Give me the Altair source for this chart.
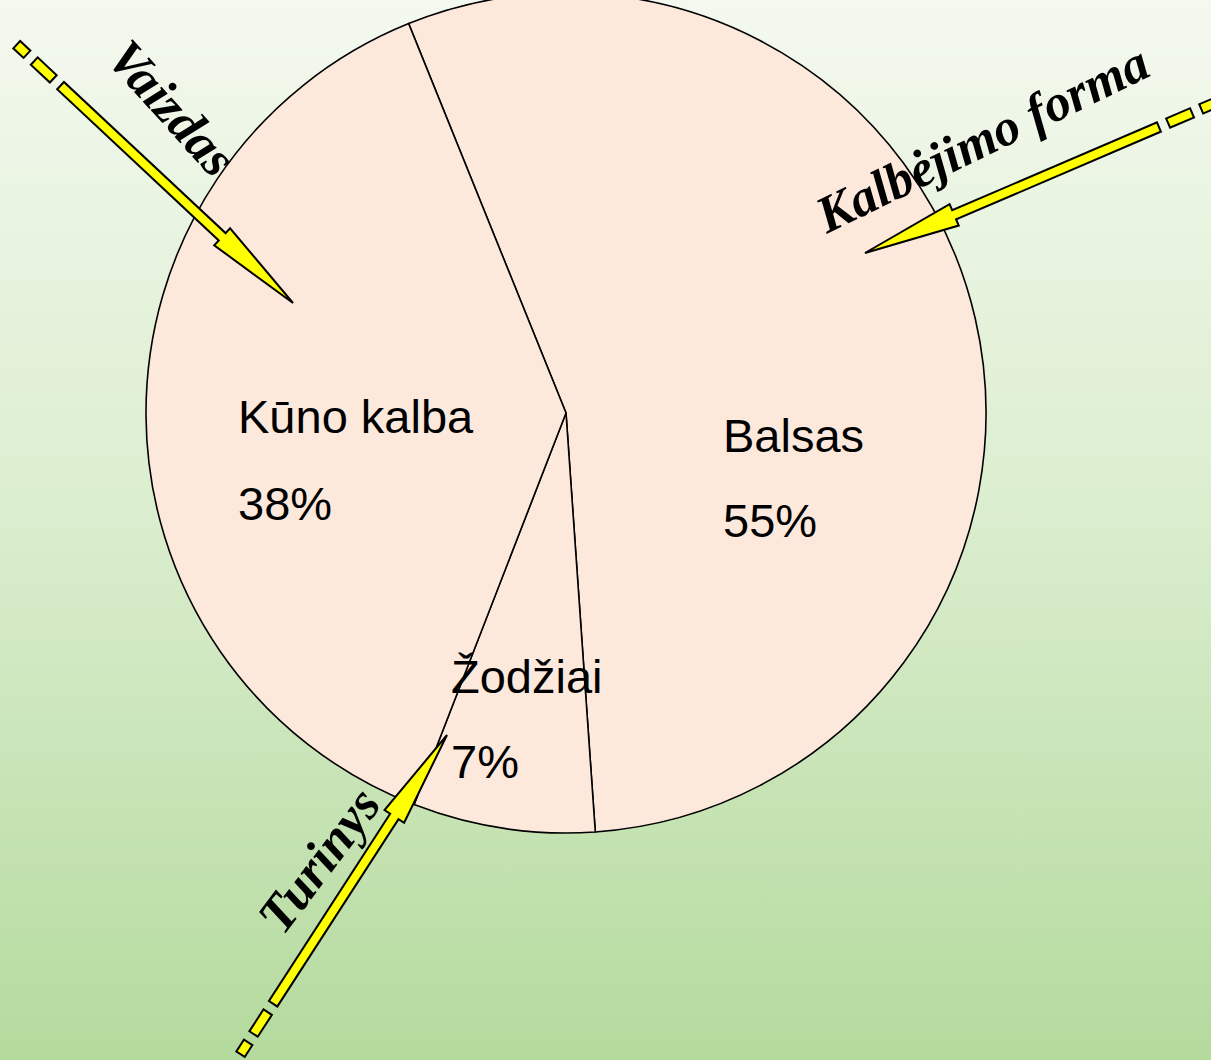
import altair as alt
import pandas as pd
import numpy as np

W, H = 1211, 1060

# ---- pie data ----
categories = ["Balsas", "Žodžiai", "Kūno kalba"]
shares = [55, 7, 38]
pct_labels = ["55%", "7%", "38%"]
order_idx = [1, 2, 3]

# label anchors (left edge, baseline), pixels
name_x = [723, 451, 238]
name_y = [452, 693, 433]
pct_y = [537, 778, 520]

# ---- arrow annotations ----
arrow_names = ["Vaizdas", "Kalbėjimo forma", "Turinys"]
tail_x = [16, 1215, 240]
tail_y = [44, 103, 1055]
tip_x = [293, 865, 447]
tip_y = [303, 253, 735]
text_x = [171, 983, 320]
text_y = [109, 140, 861]
text_angle = [48, 334, 307]

PIE_CX, PIE_CY, PIE_R = 566, 413, 420
START = np.deg2rad(-22)
HEAD_LEN = 97
PIECES = [(0, 16), (24, 52), (60, None)]

PEACH = "#FDE9DC"
YELLOW = "#FFFF00"

# build arrow geometry from annotation anchors
black_rows, yellow_rows, head_rows = [], [], []
for i in range(len(arrow_names)):
    p0 = np.array([tail_x[i], tail_y[i]], float)
    p1 = np.array([tip_x[i], tip_y[i]], float)
    L = float(np.linalg.norm(p1 - p0))
    u = (p1 - p0) / L
    for k, (a, b) in enumerate(PIECES):
        shaft = b is None
        if shaft:
            b = L - HEAD_LEN
        seg = f"{i}-{k}"
        for o, s in enumerate((a, b)):
            q = p0 + u * s
            black_rows.append(dict(seg=seg, o=o, x=q[0], y=q[1]))
        ya, yb = a + 2, (b + 6 if shaft else b - 2)
        for o, s in enumerate((ya, yb)):
            q = p0 + u * s
            yellow_rows.append(dict(seg=seg, o=o, x=q[0], y=q[1]))
    c = p1 - u * HEAD_LEN / 2
    ang = float(np.degrees(np.arctan2(u[0], -u[1])) % 360)
    head_rows.append(dict(x=c[0], y=c[1], ang=ang))

black_df = pd.DataFrame(black_rows)
yellow_df = pd.DataFrame(yellow_rows)
head_df = pd.DataFrame(head_rows)

pie_df = pd.DataFrame({"cat": categories, "share": shares, "idx": order_idx})
lab_df = pd.DataFrame({"cat": categories, "pct": pct_labels,
                       "x": name_x, "y": name_y, "py": pct_y})
txt_df = pd.DataFrame({"t": arrow_names, "x": text_x, "y": text_y, "ang": text_angle})

xs = alt.Scale(domain=[0, W], nice=False, zero=False)
ys = alt.Scale(domain=[0, H], nice=False, zero=False, reverse=True)

def X(f="x"):
    return alt.X(f"{f}:Q", scale=xs, axis=None)

def Y(f="y"):
    return alt.Y(f"{f}:Q", scale=ys, axis=None)

grad = alt.LinearGradient(
    gradient="linear",
    stops=[alt.GradientStop(color="#F4F9EF", offset=0),
           alt.GradientStop(color="#DCEED0", offset=0.47),
           alt.GradientStop(color="#B4DA9D", offset=1)],
    x1=0, x2=0, y1=0, y2=1)

bg = alt.Chart(pd.DataFrame({"k": [0]})).mark_rect(fill=grad).encode(
    x=alt.value(0), x2=alt.value(W), y=alt.value(0), y2=alt.value(H))

pie = alt.Chart(pie_df).mark_arc(
    radius=PIE_R, fill=PEACH, stroke="black", strokeWidth=1.6
).encode(
    theta=alt.Theta("share:Q", stack=True,
                    scale=alt.Scale(range=[START, START + 2 * np.pi])),
    order=alt.Order("idx:Q"),
    x=alt.value(PIE_CX), y=alt.value(PIE_CY),
)

lab_font = dict(font="Liberation Sans", fontSize=47, align="left",
                baseline="alphabetic", color="black")
names = alt.Chart(lab_df).mark_text(**lab_font).encode(x=X(), y=Y(), text="cat:N")
pcts = alt.Chart(lab_df).mark_text(**lab_font).encode(x=X(), y=Y("py"), text="pct:N")

black_lines = alt.Chart(black_df).mark_line(
    color="black", strokeWidth=12, strokeCap="butt"
).encode(x=X(), y=Y(), detail="seg:N", order="o:Q")

heads = alt.Chart(head_df).mark_point(
    shape="M0,-1L0.24,1L-0.24,1Z", filled=True, fill=YELLOW, stroke="black",
    strokeWidth=2, opacity=1, fillOpacity=1, size=HEAD_LEN ** 2
).encode(x=X(), y=Y(), angle=alt.Angle("ang:Q", scale=None))

yellow_lines = alt.Chart(yellow_df).mark_line(
    color=YELLOW, strokeWidth=8, strokeCap="butt"
).encode(x=X(), y=Y(), detail="seg:N", order="o:Q")

arrow_text = alt.Chart(txt_df).mark_text(
    font="Liberation Serif", fontSize=52, fontStyle="italic", fontWeight="bold",
    align="center", baseline="middle", color="black"
).encode(x=X(), y=Y(), text="t:N", angle=alt.Angle("ang:Q", scale=None))

chart = alt.layer(
    bg, pie, names, pcts, black_lines, heads, yellow_lines, arrow_text
).properties(
    width=W, height=H, padding=0, autosize=alt.AutoSizeParams(type="none")
).configure_view(stroke=None).configure(background="#DCEED0")

chart.save("out.html", embed_options={"renderer": "svg", "actions": False})
